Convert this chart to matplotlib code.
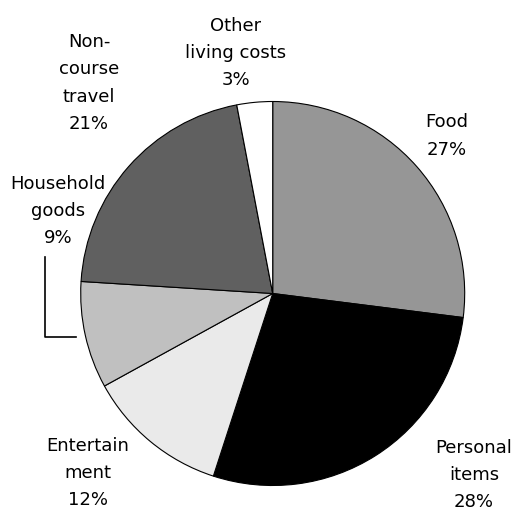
import matplotlib
matplotlib.use('Agg')
import matplotlib.pyplot as plt

# spending shares (%)
categories = ['Food', 'Personal items', 'Entertainment', 'Household goods',
              'Non-course travel', 'Other living costs']
shares = [27, 28, 12, 9, 21, 3]
label_text = ['Food', 'Personal\nitems', 'Entertain\nment', 'Household\ngoods',
              'Non-\ncourse\ntravel', 'Other\nliving costs']
colors = ['#969696', '#000000', '#eaeaea', '#c0c0c0', '#606060', '#ffffff']

W, H = 521, 514
fig = plt.figure(figsize=(W / 100, H / 100), dpi=100)
ax = fig.add_axes([0, 0, 1, 1])

ax.pie(shares, colors=colors, startangle=90, counterclock=False,
       center=(272.7, H - 293.5), radius=192, frame=True,
       wedgeprops=dict(edgecolor='black', linewidth=0.8))
ax.set_xlim(0, W)
ax.set_ylim(0, H)
ax.set_aspect('equal')
ax.axis('off')

# label centres in pixel coords (x, y from top)
label_pos = [(447, 136), (474, 475), (88, 473), (58, 211), (89, 83), (236, 53)]
for txt, val, (x, y) in zip(label_text, shares, label_pos):
    ax.text(x, H - y, f'{txt}\n{val}%', ha='center', va='center',
            multialignment='center', fontsize=13, linespacing=1.65,
            family='DejaVu Sans', color='black')

# leader line for household goods
ax.plot([45, 45, 76], [H - 257, H - 337, H - 337], color='black', lw=1.2)

fig.savefig('out.png', dpi=100)
